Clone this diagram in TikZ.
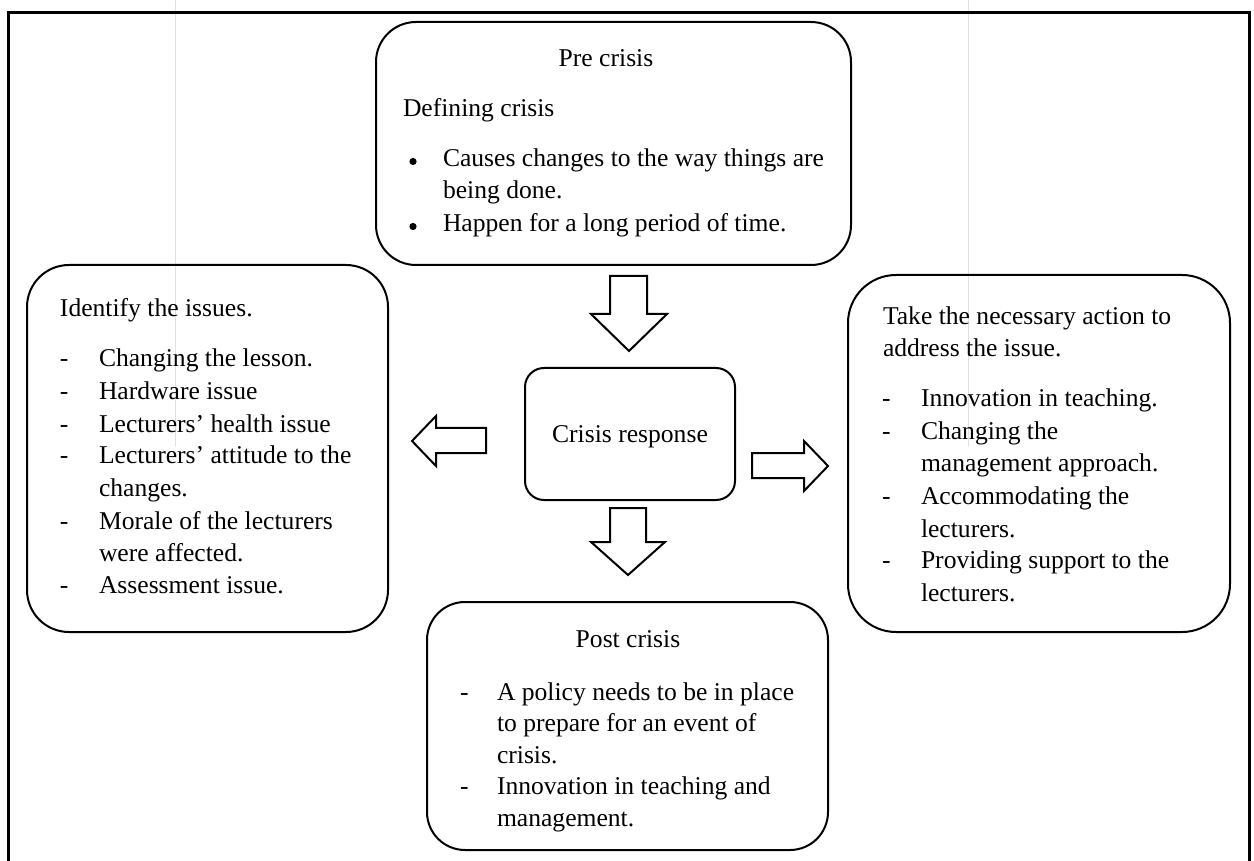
\documentclass[tikz,border=0pt]{standalone}
\usepackage{fontspec}
\setmainfont{Liberation Serif}
\newcommand{\bodyfont}{\fontsize{12.8pt}{16.3pt}\selectfont}
\begin{document}
\begin{tikzpicture}[x=0.5pt,y=-0.5pt,
  panel/.style={draw, line width=1pt, inner sep=0pt, outer sep=0pt},
  txt/.style={anchor=base west, inner sep=0pt, outer sep=0pt, font=\bodyfont},
  ctxt/.style={anchor=base, inner sep=0pt, outer sep=0pt, font=\bodyfont},
  dot/.style={circle, fill, inner sep=0pt, minimum size=3.6pt},
  blockarrow/.style={draw, line width=1pt, fill=white, line join=miter},
  guide/.style={draw=black!12, line width=0.5pt}]
\useasboundingbox (0,0) rectangle (1254,861);

% faint layout guides
\draw[guide] (175,0) -- (175,446);
\draw[guide] (968,0) -- (968,446);

% page frame, open at the bottom
\draw[line width=1.5pt] (8,861) -- (8,13) -- (1249,13) -- (1249,861);

% panels
\node[panel, rounded corners=20pt, minimum width=237.5pt, minimum height=121.5pt] (pre) at (613.5,143.5) {};
\node[panel, rounded corners=21pt, minimum width=180.5pt, minimum height=183.5pt] (issues) at (207.5,448.5) {};
\node[panel, rounded corners=24pt, minimum width=191pt, minimum height=178.5pt] (action) at (1039,453.5) {};
\node[panel, rounded corners=9.5pt, minimum width=105pt, minimum height=66pt] (response) at (630,434) {};
\node[panel, rounded corners=19pt, minimum width=200.5pt, minimum height=124pt] (post) at (627.5,726) {};

% block arrows from the crisis response
\draw[blockarrow] (610,276) -- (647,276) -- (647,314) -- (667,314) -- (629,351) -- (591,314) -- (610,314) -- cycle;
\draw[blockarrow] (610,508) -- (646,508) -- (646,542) -- (665,542) -- (628,575) -- (591,542) -- (610,542) -- cycle;
\draw[blockarrow] (486,428) -- (436,428) -- (436,416) -- (412,441) -- (436,466) -- (436,453) -- (486,453) -- cycle;
\draw[blockarrow] (752,453) -- (804,453) -- (804,441) -- (828,466) -- (804,491) -- (804,478) -- (752,478) -- cycle;

% pre crisis
\node[ctxt] (preT) at (606,67) {Pre crisis};
\node[txt] (preS) at (403,117) {Defining crisis};
\node[dot] (preB1) at (413,161.5) {};
\node[dot] (preB2) at (413,226.5) {};
\node[txt] (preL1) at (443,167) {Causes changes to the way things are};
\node[txt] (preL2) at (443,199) {being done.};
\node[txt] (preL3) at (443,232) {Happen for a long period of time.};

% identify the issues
\node[txt] (isT) at (60,317) {Identify the issues.};
\foreach \yy/\nm in {367/1,399.5/2,432/3,464/4,529/5,593.5/6}
  \node[txt] (isD\nm) at (60,\yy) {-};
\node[txt] (isL1) at (99,367) {Changing the lesson.};
\node[txt] (isL2) at (99,399.5) {Hardware issue};
\node[txt] (isL3) at (99,432) {Lecturers’ health issue};
\node[txt] (isL4) at (99,464) {Lecturers’ attitude to the};
\node[txt] (isL5) at (99,496.5) {changes.};
\node[txt] (isL6) at (99,529) {Morale of the lecturers};
\node[txt] (isL7) at (99,561) {were affected.};
\node[txt] (isL8) at (99,593.5) {Assessment issue.};

% take the necessary action
\node[txt] (acT1) at (883,325) {Take the necessary action to};
\node[txt] (acT2) at (883,357) {address the issue.};
\foreach \yy/\nm in {407/1,439/2,504/3,568/4}
  \node[txt] (acD\nm) at (882,\yy) {-};
\node[txt] (acL1) at (921,407) {Innovation in teaching.};
\node[txt] (acL2) at (921,439) {Changing the};
\node[txt] (acL3) at (921,472) {management approach.};
\node[txt] (acL4) at (921,504) {Accommodating the};
\node[txt] (acL5) at (921,537) {lecturers.};
\node[txt] (acL6) at (921,568) {Providing support to the};
\node[txt] (acL7) at (921,601) {lecturers.};

% crisis response
\node[ctxt] (resT) at (630,443) {Crisis response};

% post crisis
\node[ctxt] (poT) at (628,647) {Post crisis};
\node[txt] (poD1) at (460,700) {-};
\node[txt] (poD2) at (460,794.5) {-};
\node[txt] (poL1) at (497,700) {A policy needs to be in place};
\node[txt] (poL2) at (497,731.5) {to prepare for an event of};
\node[txt] (poL3) at (497,763) {crisis.};
\node[txt] (poL4) at (497,794.5) {Innovation in teaching and};
\node[txt] (poL5) at (497,826) {management.};
\end{tikzpicture}
\end{document}
